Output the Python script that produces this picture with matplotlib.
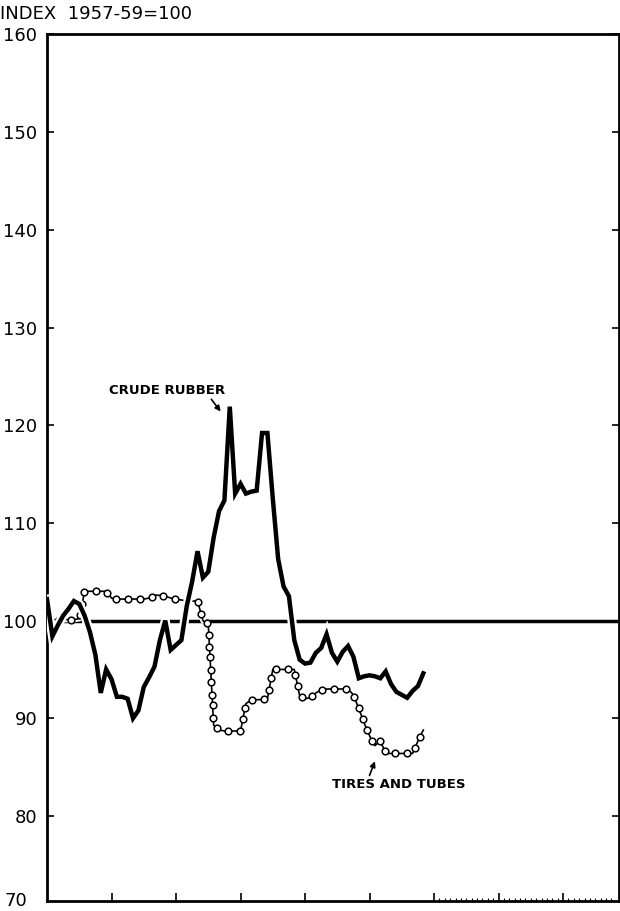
import matplotlib.pyplot as plt
import matplotlib.patheffects as pe
import numpy as np

# monthly index values, 1957-59=100 (month 0 = first month on the chart)
crude_rubber = [
    102.2, 98.4, 99.5, 100.5, 101.2, 102.0, 101.7, 100.5, 98.8, 96.5,
    92.6, 95.0, 94.0, 92.2, 92.2, 92.0, 90.0, 90.8, 93.2, 94.2,
    95.3, 98.0, 100.0, 97.0, 97.5, 98.0, 101.5, 104.0, 107.1, 104.4,
    105.0, 108.5, 111.2, 112.3, 121.9, 113.0, 114.0, 113.0, 113.2, 113.3,
    119.2, 119.2, 112.5, 106.3, 103.5, 102.5, 98.0, 96.0, 95.6, 95.7,
    96.7, 97.2, 98.6, 96.7, 95.8, 96.8, 97.4, 96.3, 94.1, 94.3,
    94.4, 94.3, 94.1, 94.8, 93.5, 92.7, 92.4, 92.1, 92.8, 93.3,
    94.6,
]
tires_tubes = [
    100.1, 100.1, 100.1, 100.1, 100.1, 100.1, 100.2, 103.0, 103.0, 103.0,
    103.0, 103.0, 102.3, 102.2, 102.2, 102.2, 102.2, 102.2, 102.2, 102.3,
    102.6, 102.6, 102.5, 102.3, 102.2, 102.1, 102.0, 102.0, 102.0, 100.0,
    99.6, 89.3, 88.8, 88.7, 88.7, 88.7, 88.7, 91.5, 91.9, 91.9,
    91.9, 92.0, 95.0, 95.0, 95.0, 95.0, 95.0, 92.3, 92.0, 92.1,
    92.6, 92.9, 93.0, 93.0, 93.0, 93.0, 93.0, 92.4, 91.0, 89.5,
    88.2, 87.2, 87.7, 86.4, 86.4, 86.4, 86.4, 86.4, 86.4, 87.7,
    88.8,
]
months = np.arange(len(crude_rubber))
ytick_vals = [80, 90, 100, 110, 120, 130, 140, 150, 160]

# subdivide each segment of the tires line so the circles can sit anywhere
# along the path (also on the steep drops), like the drafted original
sub = 40
t = np.linspace(0, 1, sub, endpoint=False)
tx = np.concatenate([months[i] + t for i in range(len(months) - 1)] + [[months[-1]]])
ty = np.concatenate([tires_tubes[i] + t * (tires_tubes[i + 1] - tires_tubes[i])
                     for i in range(len(months) - 1)] + [[tires_tubes[-1]]])

fig = plt.figure(figsize=(6.2, 9.11), dpi=100)
ax = fig.add_axes([47 / 620, 10 / 911, 572 / 620, 866.6 / 911])

ax.axhline(100, color='black', lw=2.5, zorder=1)

# white gap under the tires line, then the line with its circles
ax.plot(tx, ty, color='white', lw=4, zorder=2)
ax.plot(tx, ty, color='black', lw=1.2, marker='o', ms=4.8,
        mfc='white', mec='black', mew=1.1, markevery=0.0115, zorder=2.1)
ax.plot(months, crude_rubber, color='black', lw=3.2, solid_joinstyle='miter',
        zorder=3, path_effects=[pe.Stroke(linewidth=6.5, foreground='white'), pe.Normal()])

ax.set_xlim(0, 106.4)
ax.set_ylim(71.3, 160)

# x ticks: yearly, then monthly for the empty years
ax.set_xticks(np.arange(12, 106, 12))
ax.set_xticks(np.arange(72, 106, 1), minor=True)
ax.tick_params(axis='x', which='major', direction='in', length=6, width=1.2,
               labelbottom=False)
ax.tick_params(axis='x', which='minor', direction='in', length=2.5, width=0.8)

ax.set_yticks(ytick_vals)
ax.set_yticklabels([str(v) for v in ytick_vals])
ax.tick_params(axis='y', direction='in', length=5, width=1.2, right=True,
               labelsize=13, pad=7)
ax.text(-0.075, 71.3, '70', transform=ax.get_yaxis_transform(),
        ha='left', va='center', fontsize=13)

for s in ax.spines.values():
    s.set_linewidth(2.0)

fig.text(0.0, 1 - 14 / 911, 'INDEX  1957-59=100', ha='left', va='center',
         fontsize=13)

ax.annotate('CRUDE RUBBER', xy=(32.3, 121.4), xytext=(22.4, 123.6),
            ha='center', va='center', fontsize=9.5, fontweight='bold',
            arrowprops=dict(arrowstyle='-|>', color='black', lw=1.2,
                            shrinkA=0, shrinkB=0, mutation_scale=8,
                            relpos=(0.86, 0.0)))
ax.annotate('TIRES AND TUBES', xy=(61.0, 85.6), xytext=(65.5, 83.2),
            ha='center', va='center', fontsize=9.5, fontweight='bold',
            arrowprops=dict(arrowstyle='-|>', color='black', lw=1.2,
                            shrinkA=0, shrinkB=0, mutation_scale=8,
                            relpos=(0.27, 1.0)))

fig.savefig('out.png', dpi=100)
